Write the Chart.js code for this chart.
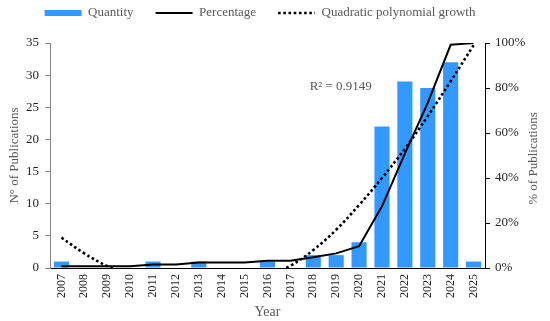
<!DOCTYPE html>
<html>
<head>
<meta charset="utf-8">
<script src="https://cdn.jsdelivr.net/npm/chart.js@4"></script>
<style>
  html, body { margin: 0; padding: 0; background: #fff; }
  #wrap { width: 550px; height: 321px; position: relative; }
</style>
</head>
<body>
<div id="wrap"><canvas id="c" width="550" height="321"></canvas></div>
<script>
const years = ['2007','2008','2009','2010','2011','2012','2013','2014','2015','2016','2017','2018','2019','2020','2021','2022','2023','2024','2025'];
const quantity = [1,0,0,0,1,0,1,0,0,1,0,2,2,4,22,29,28,32,1];
const percentage = [0.8,0.8,0.8,0.8,1.6,1.6,2.4,2.4,2.4,3.2,3.2,4.8,6.5,9.7,27.4,50.8,73.4,99.2,100];
const quadTrend = [13.5,6.5,0.8,-3.5,-6.5,-8,-8.3,-7.5,-6,-3.5,1,8,17,28,40,53,67.5,83,99];
const leftTicks = [0,5,10,15,20,25,30,35];
const rightTicks = [0,20,40,60,80,100];
const rSquared = 'R² = 0.9149';

const FONT = "'Liberation Serif', 'Times New Roman', serif";
const BLUE = '#3399ff';
const LEGEND_PAD = 22;

const extraText = {
  id: 'extraText',
  afterLayout(chart) {
    const L = chart.legend;
    if (!L) return;
    const dy = (L.top + LEGEND_PAD + 6.5) - 13;
    L.top -= dy; L.bottom -= dy;
    L.right -= 30;
  },
  afterDraw(chart) {
    const ctx = chart.ctx;
    const x = chart.scales.x, y2 = chart.scales.y2, area = chart.chartArea;
    ctx.save();
    ctx.fillStyle = '#595959';
    ctx.font = '13px ' + FONT;
    ctx.textAlign = 'center';
    ctx.textBaseline = 'middle';
    ctx.fillText(rSquared, x.getPixelForValue(12.2), y2.getPixelForValue(80.5));
    ctx.translate(534, (area.top + area.bottom) / 2 + 3);
    ctx.rotate(-Math.PI / 2);
    ctx.fillText('% of Publications', 0, 0);
    ctx.restore();
  }
};

new Chart(document.getElementById('c'), {
  data: {
    labels: years,
    datasets: [
      { type: 'bar', label: 'Quantity', data: quantity, yAxisID: 'y',
        backgroundColor: BLUE, borderWidth: 0, barPercentage: 1, categoryPercentage: 0.66, order: 3 },
      { type: 'line', label: 'Percentage', data: percentage, yAxisID: 'y2',
        borderColor: '#000', backgroundColor: '#000', borderWidth: 2, pointRadius: 0, tension: 0, order: 1 },
      { type: 'line', label: 'Quadratic polynomial growth', data: quadTrend, yAxisID: 'y2',
        borderColor: '#000', backgroundColor: '#000', borderWidth: 2.6, borderDash: [2.6, 2.6],
        pointRadius: 0, tension: 0.4, order: 2 }
    ]
  },
  options: {
    responsive: false,
    animation: false,
    layout: { padding: { top: 0, left: 0, right: 0, bottom: 0 } },
    plugins: {
      tooltip: { enabled: false },
      legend: {
        position: 'top',
        maxHeight: 43,
        labels: {
          font: { family: FONT, size: 13 },
          color: '#595959',
          usePointStyle: true,
          pointStyleWidth: 37,
          boxHeight: 6,
          padding: LEGEND_PAD,
          generateLabels(chart) {
            const items = Chart.defaults.plugins.legend.labels.generateLabels(chart);
            items.forEach(it => {
              const ds = chart.data.datasets[it.datasetIndex];
              if (ds.type === 'bar') {
                it.pointStyle = 'rect';
                it.lineWidth = 0;
                it.fillStyle = ds.backgroundColor;
              } else {
                it.pointStyle = 'line';
                it.lineWidth = ds.borderWidth;
                it.lineDash = ds.borderDash || [];
                it.strokeStyle = ds.borderColor;
              }
            });
            return items.sort((a, b) => a.datasetIndex - b.datasetIndex);
          }
        }
      }
    },
    scales: {
      x: {
        offset: true,
        grid: { display: false, drawTicks: false },
        border: { display: true, color: '#000', width: 1 },
        ticks: { color: '#262626', font: { family: FONT, size: 12 }, minRotation: 90, maxRotation: 90, autoSkip: false, padding: 6 },
        title: { display: true, text: 'Year', color: '#595959', font: { family: FONT, size: 14 }, padding: { top: 0, bottom: 0 } },
        afterFit(s) { s.height = 53; }
      },
      y: {
        position: 'left',
        min: 0, max: 35,
        afterBuildTicks(s) { s.ticks = leftTicks.map(v => ({ value: v })); },
        grid: { drawOnChartArea: false, drawTicks: true, tickLength: 5, color: '#868686' },
        border: { display: true, color: '#868686', width: 1 },
        ticks: { color: '#262626', font: { family: FONT, size: 13 }, padding: 6 },
        title: { display: true, text: 'N° of Publications', color: '#595959', font: { family: FONT, size: 13 }, padding: { top: 7, bottom: 0 } },
        afterFit(s) { s.width = 50; }
      },
      y2: {
        position: 'right',
        min: 0, max: 100,
        afterBuildTicks(s) { s.ticks = rightTicks.map(v => ({ value: v })); },
        grid: { drawOnChartArea: false, drawTicks: true, tickLength: 5, color: '#000' },
        border: { display: true, color: '#000', width: 1 },
        ticks: { color: '#262626', font: { family: FONT, size: 13 }, padding: 5, callback: v => v + '%' },
        afterFit(s) { s.width = 65; }
      }
    }
  },
  plugins: [extraText]
});
</script>
</body>
</html>
